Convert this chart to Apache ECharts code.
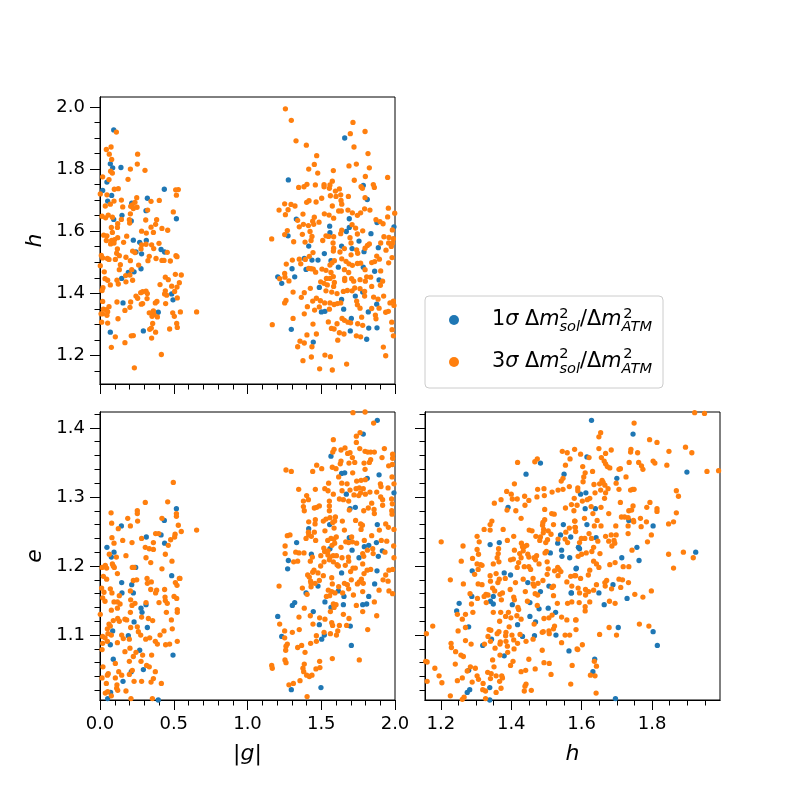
<!DOCTYPE html>
<html>
<head>
<meta charset="utf-8">
<style>html,body{margin:0;background:#fff}#main{width:800px;height:800px}</style>
<script src="https://cdn.jsdelivr.net/npm/echarts@6/dist/echarts.min.js"></script>
</head>
<body>
<div id="main"></div>
<script>
// |g| vs h
const blueGH = [[.093,1.926],[.070,1.817],[.086,1.804],[.142,1.805],[.047,1.758],[.018,1.731],[.079,1.715],[.052,1.697],[.436,1.735],[.321,1.706],[.215,1.690],[.312,1.666],[.149,1.651],[.518,1.640],[.093,1.638],[.212,1.633],[.226,1.571],[.269,1.564],[.314,1.570],[.414,1.541],[.438,1.533],[.282,1.527],[.244,1.533],[.278,1.479],[.192,1.467],[.231,1.469],[.147,1.448],[.486,1.398],[.495,1.379],[.156,1.369],[.395,1.339],[.070,1.275],[.294,1.279],
[1.659,1.900],[1.277,1.765],[1.785,1.747],[1.812,1.702],[1.331,1.639],[1.690,1.640],[1.878,1.628],[1.557,1.616],[1.690,1.612],[1.670,1.599],[1.993,1.614],[1.275,1.585],[1.559,1.595],[1.837,1.592],[1.756,1.568],[1.415,1.552],[1.638,1.552],[1.709,1.544],[1.790,1.534],[1.887,1.547],[1.521,1.528],[1.385,1.512],[1.437,1.507],[1.478,1.507],[1.566,1.505],[1.616,1.484],[1.785,1.484],[1.302,1.479],[1.397,1.477],[1.862,1.471],[1.205,1.453],[1.320,1.453],[1.232,1.432],[1.892,1.443],[1.487,1.419],[1.781,1.404],[1.731,1.391],[1.638,1.380],[1.876,1.365],[1.652,1.349],[1.819,1.340],[1.501,1.340],[1.525,1.342],[1.704,1.319],[1.297,1.284],[1.822,1.288],[1.878,1.289],[1.697,1.279],[1.446,1.243],[1.808,1.252]];
const orangeGH = [[.111,1.919],[.075,1.871],[.043,1.863],[.063,1.848],[.255,1.848],[.079,1.831],[.253,1.816],[.206,1.800],[.305,1.796],[.072,1.793],[.084,1.787],[.018,1.775],[.061,1.766],[.190,1.767],[.097,1.735],[.124,1.737],[.513,1.733],[.531,1.734],[.518,1.716],[.002,1.720],[.047,1.717],[.145,1.700],[.249,1.708],[.402,1.699],[.346,1.696],[.095,1.697],[.070,1.687],[.036,1.681],[.154,1.678],[.208,1.680],[.237,1.693],[.219,1.685],[.251,1.677],[.226,1.673],[.323,1.668],[.497,1.662],[.206,1.656],[.014,1.648],[.038,1.643],[.056,1.652],[.084,1.645],[.145,1.638],[.199,1.637],[.201,1.626],[.310,1.636],[.384,1.637],[.377,1.622],[.120,1.624],[.077,1.612],[.118,1.612],[.346,1.613],[.420,1.609],[.459,1.603],[.282,1.600],[.314,1.594],[.362,1.596],[.084,1.596],[.025,1.587],[.047,1.585],[.120,1.579],[.181,1.584],[.043,1.570],[.079,1.570],[.099,1.573],[.072,1.559],[.095,1.562],[.160,1.564],[.282,1.556],[.312,1.558],[.400,1.561],[.350,1.556],[.278,1.543],[.364,1.544],[.118,1.543],[.113,1.529],[.131,1.521],[.221,1.536],[.237,1.531],[.456,1.532],[.515,1.521],[.522,1.518],[.009,1.522],[.018,1.514],[.050,1.512],[.061,1.509],[.104,1.509],[.176,1.516],[.206,1.505],[.334,1.519],[.325,1.505],[.380,1.512],[.420,1.506],[.434,1.506],[.477,1.504],[.002,1.489],[.138,1.492],[.262,1.491],[.131,1.476],[.029,1.469],[.215,1.476],[.034,1.447],[.052,1.442],[.115,1.442],[.176,1.437],[.221,1.442],[.174,1.457],[.203,1.459],[.124,1.430],[.070,1.427],[.020,1.418],[.014,1.409],[.443,1.452],[.463,1.444],[.511,1.461],[.551,1.459],[.538,1.434],[.522,1.420],[.486,1.423],[.407,1.428],[.506,1.406],[.443,1.408],[.452,1.394],[.438,1.398],[.276,1.402],[.289,1.405],[.312,1.407],[.321,1.399],[.319,1.383],[.244,1.391],[.255,1.384],[.524,1.385],[.018,1.374],[.115,1.372],[.208,1.372],[.289,1.367],[.280,1.365],[.386,1.374],[.375,1.369],[.445,1.367],[.061,1.357],[.023,1.349],[.043,1.347],[.052,1.341],[.007,1.334],[.018,1.334],[.047,1.329],[.203,1.355],[.169,1.345],[.334,1.337],[.362,1.343],[.353,1.337],[.366,1.332],[.353,1.326],[.389,1.324],[.493,1.337],[.504,1.326],[.545,1.340],[.655,1.340],[.122,1.318],[.011,1.307],[.052,1.304],[.520,1.303],[.524,1.290],[.357,1.303],[.472,1.285],[.348,1.288],[.337,1.284],[.377,1.275],[.104,1.260],[.212,1.263],[.226,1.264],[.350,1.256],[.077,1.226],[.169,1.241],[.416,1.203],[.233,1.160],
[1.257,1.994],[1.297,1.957],[1.329,1.891],[1.399,1.877],[1.715,1.950],[1.697,1.914],[1.797,1.921],[1.722,1.871],[1.817,1.850],[1.469,1.843],[1.453,1.815],[1.415,1.800],[1.476,1.787],[1.582,1.795],[1.688,1.810],[1.738,1.816],[1.826,1.804],[1.799,1.776],[1.950,1.773],[1.724,1.764],[1.575,1.761],[1.559,1.749],[1.519,1.750],[1.460,1.749],[1.403,1.751],[1.383,1.743],[1.347,1.741],[1.519,1.743],[1.555,1.738],[1.623,1.736],[1.596,1.729],[1.770,1.743],[1.779,1.738],[1.853,1.750],[1.860,1.741],[1.562,1.714],[1.600,1.712],[1.632,1.717],[1.684,1.712],[1.503,1.706],[1.417,1.698],[1.401,1.693],[1.465,1.694],[1.634,1.699],[1.797,1.708],[1.639,1.687],[1.575,1.681],[1.252,1.688],[1.295,1.686],[1.322,1.681],[1.214,1.668],[1.275,1.669],[1.257,1.653],[1.376,1.655],[1.618,1.665],[1.636,1.665],[1.681,1.668],[1.711,1.659],[1.745,1.651],[1.767,1.659],[1.794,1.672],[1.830,1.668],[1.955,1.674],[1.998,1.658],[1.950,1.646],[1.521,1.656],[1.553,1.652],[1.584,1.642],[1.453,1.645],[1.442,1.632],[1.449,1.622],[1.485,1.629],[1.340,1.635],[1.379,1.622],[1.413,1.618],[1.351,1.614],[1.270,1.602],[1.252,1.589],[1.424,1.599],[1.372,1.590],[1.437,1.583],[1.431,1.570],[1.313,1.566],[1.390,1.565],[1.164,1.575],[1.510,1.570],[1.532,1.585],[1.550,1.583],[1.584,1.582],[1.632,1.592],[1.639,1.603],[1.709,1.621],[1.733,1.610],[1.745,1.591],[1.695,1.579],[1.781,1.601],[1.871,1.637],[1.898,1.631],[1.919,1.624],[1.982,1.604],[1.925,1.582],[1.959,1.580],[1.989,1.576],[1.903,1.562],[1.957,1.562],[1.984,1.562],[1.939,1.539],[1.975,1.551],[1.813,1.554],[1.826,1.559],[1.797,1.545],[1.580,1.562],[1.584,1.545],[1.582,1.536],[1.657,1.544],[1.702,1.562],[1.740,1.540],[1.747,1.529],[1.702,1.524],[1.627,1.533],[1.444,1.531],[1.419,1.519],[1.263,1.494],[1.304,1.507],[1.351,1.510],[1.361,1.495],[1.392,1.509],[1.415,1.480],[1.431,1.479],[1.446,1.478],[1.462,1.468],[1.505,1.478],[1.532,1.474],[1.559,1.491],[1.573,1.498],[1.589,1.505],[1.639,1.511],[1.668,1.503],[1.688,1.495],[1.711,1.490],[1.745,1.496],[1.767,1.497],[1.797,1.476],[1.842,1.499],[1.862,1.502],[1.876,1.520],[1.894,1.510],[1.957,1.498],[1.980,1.515],[1.903,1.472],[1.808,1.453],[1.835,1.452],[1.657,1.476],[1.686,1.467],[1.566,1.467],[1.582,1.454],[1.535,1.448],[1.559,1.448],[1.659,1.448],[1.659,1.441],[1.706,1.447],[1.720,1.439],[1.763,1.444],[1.799,1.439],[1.842,1.422],[1.901,1.426],[1.916,1.439],[1.252,1.464],[1.218,1.447],[1.254,1.452],[1.281,1.440],[1.496,1.437],[1.519,1.432],[1.541,1.427],[1.589,1.435],[1.584,1.422],[1.426,1.416],[1.532,1.408],[1.571,1.404],[1.607,1.399],[1.650,1.406],[1.677,1.409],[1.709,1.408],[1.727,1.417],[1.763,1.415],[1.794,1.406],[1.794,1.391],[1.855,1.388],[1.923,1.391],[1.309,1.404],[1.385,1.402],[1.365,1.387],[1.261,1.377],[1.252,1.369],[1.467,1.384],[1.442,1.375],[1.494,1.376],[1.406,1.357],[1.455,1.346],[1.487,1.356],[1.523,1.369],[1.559,1.369],[1.587,1.364],[1.609,1.367],[1.632,1.369],[1.740,1.375],[1.745,1.363],[1.763,1.352],[1.842,1.351],[1.885,1.381],[1.989,1.375],[1.966,1.369],[1.993,1.361],[1.892,1.352],[1.937,1.339],[1.955,1.342],[1.385,1.334],[1.555,1.349],[1.867,1.330],[1.871,1.318],[1.774,1.323],[1.309,1.319],[1.168,1.299],[1.444,1.301],[1.548,1.308],[1.607,1.302],[1.641,1.319],[1.657,1.313],[1.681,1.307],[1.699,1.305],[1.747,1.302],[1.781,1.297],[1.978,1.307],[1.980,1.283],[1.989,1.263],[1.569,1.287],[1.587,1.285],[1.623,1.273],[1.654,1.269],[1.738,1.263],[1.767,1.260],[1.612,1.249],[1.467,1.269],[1.403,1.266],[1.356,1.246],[1.385,1.240],[1.340,1.228],[1.437,1.228],[1.921,1.227],[1.937,1.199],[1.433,1.195],[1.525,1.201],[1.562,1.196],[1.376,1.183],[1.489,1.157],[1.575,1.153],[1.672,1.172]];
// |g| vs e
const blueGE = [[.518,1.283],[.436,1.266],[.145,1.258],[.414,1.245],[.314,1.242],[.438,1.233],[.047,1.227],[.095,1.220],[.077,1.213],[.242,1.198],[.486,1.186],[.147,1.176],[.215,1.173],[.149,1.161],[.226,1.161],[.312,1.144],[.278,1.139],[.285,1.133],[.231,1.119],[.321,1.111],[.086,1.106],[.192,1.099],[.070,1.086],[.269,1.078],[.495,1.071],[.090,1.065],[.212,1.047],[.294,1.050],[.156,1.033],[.072,1.017],[.052,1.008],[.395,1.006],
[1.880,1.411],[1.785,1.391],[1.566,1.359],[1.659,1.335],[1.638,1.334],[1.892,1.332],[1.812,1.327],[1.670,1.304],[1.993,1.306],[1.695,1.283],[1.731,1.285],[1.557,1.260],[1.415,1.254],[1.880,1.260],[1.333,1.234],[1.690,1.241],[1.874,1.234],[1.822,1.230],[1.792,1.228],[1.559,1.225],[1.433,1.217],[1.709,1.223],[1.914,1.222],[1.756,1.212],[1.887,1.214],[1.277,1.208],[1.272,1.196],[1.878,1.193],[1.638,1.190],[1.478,1.171],[1.862,1.174],[1.397,1.161],[1.616,1.164],[1.654,1.156],[1.822,1.156],[1.525,1.148],[1.781,1.144],[1.808,1.145],[1.650,1.144],[1.320,1.147],[1.304,1.143],[1.566,1.140],[1.446,1.134],[1.205,1.127],[1.487,1.115],[1.697,1.113],[1.232,1.098],[1.521,1.100],[1.503,1.094],[1.704,1.085],[1.297,1.021],[1.498,1.024]];
const orangeGE = [[.497,1.321],[.459,1.293],[.307,1.292],[.075,1.277],[.253,1.280],[.253,1.276],[.188,1.269],[.255,1.265],[.518,1.276],[.518,1.272],[.420,1.269],[.079,1.262],[.206,1.258],[.531,1.259],[.124,1.254],[.551,1.250],[.655,1.252],[.377,1.247],[.398,1.247],[.509,1.246],[.506,1.242],[.081,1.241],[.282,1.240],[.479,1.238],[.154,1.237],[.095,1.233],[.217,1.234],[.362,1.234],[.463,1.230],[.307,1.227],[.334,1.225],[.362,1.224],[.443,1.217],[.063,1.217],[.111,1.213],[.176,1.215],[.312,1.212],[.344,1.205],[.488,1.207],[.084,1.203],[.090,1.200],[.097,1.198],[.014,1.198],[.036,1.201],[.045,1.197],[.219,1.198],[.231,1.198],[.420,1.196],[.118,1.189],[.023,1.185],[.045,1.181],[.319,1.182],[.321,1.175],[.226,1.179],[.249,1.180],[.348,1.177],[.511,1.176],[.522,1.172],[.542,1.182],[.538,1.182],[.011,1.168],[.070,1.167],[.081,1.161],[.027,1.162],[.206,1.164],[.344,1.166],[.384,1.165],[.377,1.161],[.438,1.166],[.018,1.154],[.034,1.149],[.131,1.157],[.095,1.148],[.118,1.148],[.136,1.145],[.208,1.151],[.237,1.146],[.217,1.143],[.312,1.147],[.400,1.147],[.441,1.155],[.443,1.150],[.456,1.146],[.502,1.156],[.520,1.153],[.118,1.139],[.077,1.136],[.002,1.130],[.206,1.133],[.450,1.133],[.524,1.137],[.524,1.133],[.282,1.126],[.328,1.124],[.357,1.121],[.484,1.122],[.090,1.121],[.120,1.124],[.131,1.120],[.169,1.123],[.181,1.122],[.061,1.116],[.070,1.113],[.050,1.109],[.077,1.100],[.054,1.102],[.208,1.111],[.253,1.112],[.260,1.105],[.276,1.100],[.490,1.109],[.434,1.106],[.407,1.100],[.147,1.100],[.158,1.095],[.018,1.098],[.034,1.096],[.050,1.091],[.018,1.088],[.199,1.094],[.310,1.094],[.337,1.096],[.375,1.091],[.389,1.087],[.445,1.086],[.472,1.087],[.524,1.091],[.118,1.089],[.014,1.079],[.203,1.081],[.169,1.076],[.244,1.075],[.226,1.069],[.350,1.071],[.289,1.071],[.199,1.062],[.278,1.062],[.316,1.056],[.334,1.054],[.104,1.059],[.020,1.054],[.219,1.049],[.375,1.047],[.056,1.044],[.127,1.047],[.147,1.042],[.199,1.043],[.014,1.038],[.050,1.042],[.104,1.038],[.231,1.033],[.282,1.033],[.362,1.037],[.346,1.032],[.416,1.030],[.043,1.030],[.115,1.028],[.113,1.023],[.120,1.020],[.176,1.019],[.036,1.016],[.052,1.018],[.077,1.012],[.210,1.008],[.355,1.008],
[1.715,1.422],[1.797,1.423],[1.855,1.407],[1.763,1.393],[1.738,1.388],[1.582,1.383],[1.738,1.379],[1.761,1.370],[1.587,1.369],[1.578,1.365],[1.634,1.368],[1.661,1.371],[1.679,1.363],[1.695,1.364],[1.797,1.366],[1.815,1.365],[1.835,1.365],[1.860,1.365],[1.928,1.370],[1.984,1.362],[1.984,1.356],[1.912,1.357],[1.711,1.357],[1.634,1.352],[1.629,1.348],[1.727,1.350],[1.790,1.349],[1.835,1.354],[1.826,1.350],[1.688,1.349],[1.575,1.343],[1.600,1.341],[1.797,1.340],[1.982,1.347],[1.957,1.345],[1.261,1.339],[1.297,1.337],[1.442,1.337],[1.469,1.346],[1.503,1.341],[1.713,1.335],[1.618,1.329],[1.980,1.329],[1.550,1.320],[1.639,1.320],[1.675,1.319],[1.740,1.323],[1.770,1.324],[1.799,1.325],[1.901,1.319],[1.905,1.315],[1.993,1.319],[1.524,1.312],[1.546,1.309],[1.460,1.311],[1.347,1.311],[1.641,1.309],[1.695,1.310],[1.736,1.312],[1.758,1.313],[1.785,1.312],[1.799,1.304],[1.830,1.307],[1.876,1.307],[1.953,1.313],[1.582,1.304],[1.401,1.302],[1.413,1.296],[1.379,1.294],[1.623,1.297],[1.650,1.296],[1.686,1.294],[1.722,1.303],[1.754,1.302],[1.767,1.306],[1.903,1.300],[1.916,1.296],[1.977,1.297],[1.982,1.290],[1.555,1.294],[1.555,1.287],[1.842,1.291],[1.916,1.288],[1.379,1.286],[1.385,1.280],[1.453,1.284],[1.469,1.285],[1.487,1.287],[1.555,1.280],[1.819,1.284],[1.788,1.280],[1.690,1.281],[1.858,1.282],[1.860,1.276],[1.978,1.280],[1.980,1.275],[1.559,1.270],[1.532,1.268],[1.596,1.271],[1.591,1.265],[1.460,1.267],[1.415,1.264],[1.458,1.261],[1.514,1.265],[1.578,1.263],[1.643,1.265],[1.733,1.266],[1.767,1.261],[1.779,1.259],[1.937,1.261],[1.955,1.256],[1.894,1.252],[1.993,1.253],[1.413,1.249],[1.415,1.245],[1.453,1.249],[1.525,1.251],[1.587,1.255],[1.657,1.252],[1.770,1.253],[1.270,1.244],[1.288,1.245],[1.433,1.243],[1.397,1.240],[1.462,1.237],[1.566,1.240],[1.544,1.237],[1.586,1.239],[1.602,1.242],[1.706,1.242],[1.666,1.235],[1.686,1.234],[1.711,1.235],[1.740,1.233],[1.634,1.227],[1.591,1.233],[1.255,1.229],[1.842,1.244],[1.907,1.237],[1.944,1.236],[1.792,1.237],[1.991,1.229],[1.255,1.218],[1.327,1.220],[1.349,1.219],[1.440,1.213],[1.383,1.219],[1.517,1.226],[1.523,1.221],[1.546,1.222],[1.573,1.230],[1.497,1.215],[1.545,1.216],[1.559,1.213],[1.581,1.215],[1.603,1.215],[1.641,1.212],[1.684,1.213],[1.849,1.225],[1.852,1.218],[1.932,1.220],[1.781,1.218],[1.788,1.214],[1.813,1.223],[1.313,1.206],[1.340,1.207],[1.426,1.207],[1.519,1.206],[1.555,1.209],[1.582,1.206],[1.607,1.202],[1.616,1.200],[1.686,1.207],[1.663,1.201],[1.993,1.212],[1.781,1.203],[1.496,1.200],[1.451,1.194],[1.442,1.191],[1.514,1.186],[1.478,1.190],[1.715,1.197],[1.699,1.192],[1.731,1.197],[1.811,1.194],[1.835,1.195],[1.959,1.194],[1.984,1.195],[1.937,1.187],[1.790,1.189],[1.408,1.187],[1.419,1.184],[1.571,1.183],[1.704,1.180],[1.772,1.181],[1.758,1.177],[1.745,1.174],[1.785,1.175],[1.919,1.180],[1.953,1.178],[1.428,1.178],[1.487,1.179],[1.431,1.175],[1.458,1.175],[1.431,1.170],[1.214,1.171],[1.372,1.168],[1.575,1.174],[1.618,1.170],[1.657,1.175],[1.677,1.173],[1.686,1.167],[1.404,1.159],[1.548,1.165],[1.571,1.163],[1.593,1.161],[1.645,1.161],[1.781,1.163],[1.718,1.158],[1.892,1.165],[1.959,1.164],[1.984,1.160],[1.535,1.156],[1.557,1.157],[1.860,1.148],[1.738,1.143],[1.385,1.139],[1.582,1.145],[1.600,1.144],[1.587,1.140],[1.781,1.134],[1.876,1.128],[1.349,1.126],[1.426,1.128],[1.489,1.125],[1.525,1.123],[1.562,1.134],[1.650,1.130],[1.688,1.124],[1.444,1.116],[1.571,1.118],[1.577,1.114],[1.623,1.114],[1.672,1.114],[1.351,1.108],[1.252,1.106],[1.218,1.116],[1.304,1.104],[1.519,1.104],[1.562,1.102],[1.603,1.100],[1.612,1.106],[1.815,1.108],[1.467,1.099],[1.252,1.096],[1.428,1.088],[1.467,1.091],[1.270,1.087],[1.261,1.084],[1.259,1.078],[1.367,1.085],[1.340,1.082],[1.390,1.075],[1.575,1.066],[1.758,1.064],[1.254,1.064],[1.261,1.060],[1.164,1.056],[1.168,1.052],[1.489,1.062],[1.385,1.058],[1.376,1.052],[1.464,1.051],[1.491,1.053],[1.381,1.047],[1.401,1.042],[1.419,1.040],[1.437,1.042],[1.356,1.034],[1.311,1.030],[1.281,1.028],[1.404,1.011]];
// h vs e
const blueHE = [[1.483,1.349],[1.442,1.333],[1.550,1.333],[1.391,1.285],[1.340,1.231],[1.366,1.234],[1.548,1.260],[1.540,1.245],[1.532,1.233],[1.569,1.242],[1.591,1.227],[1.543,1.223],[1.511,1.219],[1.544,1.214],[1.566,1.212],[1.289,1.193],[1.380,1.190],[1.398,1.187],[1.585,1.197],[1.447,1.176],[1.507,1.171],[1.483,1.163],[1.288,1.156],[1.349,1.156],[1.341,1.149],[1.349,1.145],[1.252,1.146],[1.245,1.135],[1.403,1.144],[1.453,1.147],[1.479,1.138],[1.505,1.139],[1.526,1.133],[1.453,1.127],[1.469,1.119],[1.418,1.115],[1.279,1.112],[1.570,1.161],[1.432,1.098],[1.466,1.099],[1.527,1.100],[1.319,1.085],[1.344,1.094],[1.380,1.070],[1.564,1.077],[1.279,1.049],[1.282,1.021],[1.275,1.017],[1.339,1.024],[1.339,1.006],
[1.628,1.411],[1.746,1.391],[1.899,1.336],[1.700,1.327],[1.597,1.304],[1.612,1.306],[1.610,1.283],[1.639,1.283],[1.615,1.260],[1.734,1.266],[1.803,1.258],[1.641,1.241],[1.591,1.227],[1.594,1.225],[1.757,1.227],[1.714,1.212],[1.763,1.208],[1.924,1.220],[1.584,1.196],[1.689,1.173],[1.649,1.161],[1.571,1.161],[1.729,1.153],[1.664,1.144],[1.704,1.111],[1.803,1.105],[1.815,1.085],[1.637,1.065],[1.632,1.047],[1.696,1.008],[1.615,1.358]];
const orangeHE = [[1.545,1.366],[1.559,1.364],[1.580,1.369],[1.567,1.355],[1.554,1.346],[1.474,1.355],[1.467,1.351],[1.418,1.350],[1.547,1.327],[1.542,1.323],[1.409,1.319],[1.565,1.315],[1.475,1.311],[1.493,1.312],[1.387,1.308],[1.533,1.310],[1.547,1.311],[1.516,1.307],[1.400,1.304],[1.438,1.301],[1.494,1.302],[1.473,1.300],[1.403,1.297],[1.417,1.297],[1.371,1.296],[1.450,1.295],[1.579,1.298],[1.352,1.291],[1.439,1.288],[1.571,1.289],[1.413,1.280],[1.388,1.281],[1.495,1.282],[1.554,1.284],[1.578,1.280],[1.515,1.276],[1.522,1.275],[1.428,1.269],[1.345,1.265],[1.340,1.260],[1.495,1.267],[1.490,1.263],[1.580,1.265],[1.520,1.260],[1.582,1.256],[1.323,1.253],[1.340,1.252],[1.377,1.253],[1.451,1.252],[1.459,1.251],[1.489,1.259],[1.492,1.253],[1.505,1.251],[1.491,1.248],[1.513,1.246],[1.565,1.255],[1.555,1.249],[1.303,1.243],[1.407,1.243],[1.470,1.243],[1.483,1.242],[1.503,1.238],[1.309,1.235],[1.201,1.235],[1.389,1.237],[1.263,1.229],[1.429,1.233],[1.444,1.230],[1.437,1.228],[1.481,1.237],[1.498,1.234],[1.533,1.239],[1.553,1.239],[1.560,1.234],[1.303,1.224],[1.364,1.225],[1.409,1.223],[1.432,1.228],[1.434,1.222],[1.500,1.221],[1.307,1.217],[1.363,1.218],[1.360,1.212],[1.365,1.206],[1.290,1.211],[1.258,1.207],[1.424,1.218],[1.406,1.210],[1.398,1.209],[1.428,1.212],[1.447,1.217],[1.450,1.213],[1.465,1.212],[1.472,1.215],[1.496,1.219],[1.502,1.206],[1.469,1.209],[1.303,1.203],[1.313,1.202],[1.317,1.201],[1.306,1.195],[1.349,1.203],[1.421,1.205],[1.417,1.198],[1.437,1.199],[1.450,1.199],[1.455,1.195],[1.479,1.203],[1.505,1.196],[1.532,1.198],[1.536,1.195],[1.523,1.193],[1.541,1.192],[1.357,1.189],[1.296,1.188],[1.340,1.186],[1.227,1.180],[1.264,1.174],[1.341,1.178],[1.366,1.181],[1.383,1.182],[1.362,1.176],[1.412,1.176],[1.434,1.181],[1.462,1.182],[1.490,1.179],[1.502,1.188],[1.533,1.186],[1.558,1.177],[1.569,1.185],[1.580,1.186],[1.306,1.174],[1.317,1.173],[1.347,1.168],[1.353,1.164],[1.368,1.159],[1.375,1.161],[1.397,1.166],[1.440,1.163],[1.462,1.174],[1.476,1.175],[1.465,1.171],[1.516,1.169],[1.520,1.171],[1.572,1.171],[1.283,1.160],[1.328,1.159],[1.334,1.158],[1.323,1.156],[1.304,1.153],[1.372,1.151],[1.407,1.155],[1.409,1.151],[1.468,1.160],[1.475,1.158],[1.520,1.157],[1.287,1.145],[1.329,1.147],[1.474,1.143],[1.531,1.146],[1.560,1.146],[1.572,1.148],[1.270,1.130],[1.291,1.133],[1.349,1.133],[1.370,1.133],[1.392,1.133],[1.419,1.140],[1.421,1.137],[1.446,1.149],[1.399,1.125],[1.416,1.128],[1.428,1.123],[1.493,1.124],[1.507,1.125],[1.516,1.129],[1.543,1.126],[1.558,1.122],[1.583,1.122],[1.261,1.123],[1.367,1.120],[1.384,1.127],[1.247,1.130],[1.270,1.111],[1.177,1.113],[1.394,1.112],[1.465,1.116],[1.523,1.113],[1.520,1.109],[1.159,1.102],[1.249,1.106],[1.337,1.108],[1.342,1.107],[1.365,1.105],[1.360,1.102],[1.385,1.104],[1.491,1.105],[1.507,1.106],[1.488,1.104],[1.334,1.098],[1.384,1.099],[1.402,1.100],[1.425,1.101],[1.462,1.094],[1.508,1.102],[1.553,1.100],[1.566,1.100],[1.270,1.092],[1.286,1.087],[1.324,1.087],[1.341,1.091],[1.369,1.090],[1.385,1.091],[1.407,1.093],[1.442,1.091],[1.543,1.089],[1.587,1.080],[1.229,1.088],[1.230,1.082],[1.242,1.076],[1.257,1.071],[1.264,1.069],[1.354,1.081],[1.368,1.087],[1.389,1.084],[1.418,1.088],[1.408,1.080],[1.390,1.075],[1.368,1.071],[1.488,1.078],[1.347,1.064],[1.450,1.065],[1.405,1.062],[1.398,1.056],[1.493,1.060],[1.508,1.059],[1.573,1.056],[1.157,1.062],[1.161,1.061],[1.241,1.058],[1.183,1.052],[1.351,1.054],[1.298,1.052],[1.284,1.054],[1.275,1.048],[1.428,1.047],[1.441,1.049],[1.468,1.051],[1.513,1.043],[1.195,1.041],[1.261,1.038],[1.303,1.041],[1.247,1.034],[1.307,1.036],[1.333,1.046],[1.343,1.044],[1.357,1.041],[1.373,1.041],[1.375,1.038],[1.341,1.037],[1.320,1.030],[1.367,1.033],[1.289,1.032],[1.203,1.031],[1.161,1.033],[1.371,1.023],[1.442,1.029],[1.569,1.029],[1.439,1.026],[1.319,1.021],[1.327,1.019],[1.357,1.017],[1.437,1.019],[1.457,1.020],[1.227,1.012],[1.266,1.010],[1.261,1.007],[1.327,1.008],
[1.921,1.422],[1.949,1.421],[1.749,1.407],[1.654,1.393],[1.649,1.387],[1.793,1.383],[1.814,1.379],[1.649,1.370],[1.684,1.368],[1.668,1.363],[1.597,1.362],[1.621,1.357],[1.740,1.369],[1.739,1.365],[1.759,1.364],[1.848,1.366],[1.895,1.372],[1.913,1.364],[1.656,1.357],[1.664,1.352],[1.668,1.348],[1.673,1.344],[1.680,1.342],[1.735,1.350],[1.762,1.350],[1.770,1.345],[1.774,1.340],[1.803,1.352],[1.808,1.349],[1.842,1.346],[1.706,1.340],[1.710,1.341],[1.603,1.344],[1.610,1.335],[1.606,1.329],[1.604,1.322],[1.631,1.337],[1.956,1.337],[1.989,1.338],[1.726,1.329],[1.698,1.320],[1.658,1.324],[1.651,1.319],[1.661,1.321],[1.666,1.317],[1.675,1.312],[1.635,1.318],[1.589,1.313],[1.589,1.309],[1.654,1.310],[1.706,1.311],[1.739,1.310],[1.745,1.311],[1.749,1.311],[1.638,1.306],[1.668,1.306],[1.869,1.309],[1.875,1.301],[1.665,1.298],[1.623,1.298],[1.616,1.296],[1.602,1.294],[1.710,1.292],[1.794,1.292],[1.587,1.288],[1.627,1.286],[1.655,1.285],[1.746,1.287],[1.785,1.285],[1.814,1.283],[1.814,1.279],[1.734,1.280],[1.742,1.281],[1.632,1.276],[1.677,1.276],[1.869,1.277],[1.608,1.269],[1.713,1.271],[1.722,1.271],[1.732,1.270],[1.767,1.269],[1.748,1.264],[1.747,1.266],[1.861,1.264],[1.784,1.264],[1.847,1.261],[1.581,1.265],[1.644,1.266],[1.697,1.258],[1.732,1.258],[1.769,1.257],[1.636,1.258],[1.655,1.258],[1.798,1.245],[1.787,1.235],[1.581,1.256],[1.583,1.250],[1.621,1.247],[1.668,1.243],[1.684,1.245],[1.698,1.245],[1.732,1.247],[1.599,1.240],[1.609,1.240],[1.628,1.240],[1.646,1.236],[1.594,1.234],[1.677,1.236],[1.692,1.237],[1.694,1.233],[1.686,1.229],[1.634,1.227],[1.743,1.223],[1.629,1.221],[1.652,1.218],[1.613,1.219],[1.600,1.217],[1.590,1.214],[1.847,1.217],[1.889,1.220],[1.917,1.212],[1.634,1.207],[1.642,1.203],[1.649,1.198],[1.680,1.202],[1.695,1.205],[1.718,1.199],[1.734,1.199],[1.861,1.197],[1.623,1.194],[1.619,1.187],[1.583,1.186],[1.597,1.182],[1.706,1.181],[1.716,1.180],[1.733,1.176],[1.671,1.179],[1.666,1.176],[1.667,1.171],[1.642,1.173],[1.711,1.169],[1.685,1.167],[1.590,1.168],[1.611,1.166],[1.634,1.165],[1.620,1.163],[1.611,1.158],[1.594,1.161],[1.751,1.159],[1.798,1.164],[1.774,1.155],[1.679,1.149],[1.695,1.146],[1.623,1.148],[1.593,1.147],[1.610,1.141],[1.610,1.135],[1.584,1.122],[1.584,1.108],[1.678,1.111],[1.651,1.101],[1.764,1.116],[1.791,1.113],[1.699,1.100],[1.602,1.086],[1.589,1.079],[1.636,1.062],[1.642,1.055],[1.625,1.042],[1.638,1.041],[1.641,1.016]];

const gRange = [0, 2];
const hYRange = [1.108, 2.032];
const hXRange = [1.155, 1.993];
const eRange = [1.006, 1.423];

const gTicks = [0, 0.5, 1, 1.5, 2];
const gMinor = [0.1, 0.2, 0.3, 0.4, 0.6, 0.7, 0.8, 0.9, 1.1, 1.2, 1.3, 1.4, 1.6, 1.7, 1.8, 1.9];
const hTicks = [1.2, 1.4, 1.6, 1.8, 2.0];
const hMinor = [1.15, 1.25, 1.3, 1.35, 1.45, 1.5, 1.55, 1.65, 1.7, 1.75, 1.85, 1.9, 1.95];
const hBottomTicks = [1.2, 1.4, 1.6, 1.8];
const eTicks = [1.1, 1.2, 1.3, 1.4];
const eMinor = [1.02, 1.04, 1.06, 1.08, 1.12, 1.14, 1.16, 1.18, 1.22, 1.24, 1.26, 1.28, 1.32, 1.34, 1.36, 1.38, 1.42];

const legendNames = ['1σ', '3σ'];
const blue = '#1f77b4';
const orange = '#ff7f0e';
const FONT = '"DejaVu Sans"';

var chartDom = document.getElementById('main');
var myChart = echarts.init(chartDom);

const grids = [
    { left: 100, top: 97, width: 295, height: 287, show: true, borderColor: '#000', borderWidth: 1 },
    { left: 100, top: 412, width: 295, height: 288, show: true, borderColor: '#000', borderWidth: 1 },
    { left: 425, top: 412, width: 295, height: 288, show: true, borderColor: '#000', borderWidth: 1 }
];

// one axis carries the labelled ticks, a second one only the short ticks
function axisPair(gridIndex, position, range, ticks, minor, showLabels, name, nameGap) {
    const base = {
        type: 'value', gridIndex, position, min: range[0], max: range[1], scale: true,
        splitLine: { show: false },
        axisLine: { onZero: false, lineStyle: { color: '#000', width: 1 } }
    };
    return [
        Object.assign({}, base, {
            name: name || '',
            nameLocation: 'middle',
            nameGap: nameGap || 0,
            nameTextStyle: {
                fontFamily: FONT, fontSize: 22, fontStyle: 'italic', color: '#000',
                rich: { t: { fontFamily: FONT, fontSize: 22, fontStyle: 'normal', color: '#000' } }
            },
            axisTick: { length: 10, customValues: ticks, lineStyle: { color: '#000', width: 1 } },
            axisLabel: {
                show: showLabels, customValues: ticks, margin: 15,
                fontFamily: FONT, fontSize: 18, color: '#000',
                padding: position === 'left' ? [6, 0, 0, 0] : 0,
                formatter: v => v.toFixed(1)
            }
        }),
        Object.assign({}, base, {
            axisTick: { length: 5.5, customValues: minor, lineStyle: { color: '#000', width: 1 } },
            axisLabel: { show: false }
        })
    ];
}

const xAxes = [].concat(
    axisPair(0, 'bottom', gRange, gTicks, gMinor, false),
    axisPair(1, 'bottom', gRange, gTicks, gMinor, true, '{t||}g{t||}', 43),
    axisPair(2, 'bottom', hXRange, hBottomTicks, hMinor, true, 'h', 43)
);
const yAxes = [].concat(
    axisPair(0, 'left', hYRange, hTicks, hMinor, true, 'h', 54),
    axisPair(1, 'left', eRange, eTicks, eMinor, true, 'e', 54),
    axisPair(2, 'left', eRange, eTicks, eMinor, false)
);

function scatter(name, color, data, panel) {
    return {
        name, type: 'scatter', data, symbolSize: 5.3,
        xAxisIndex: panel * 2, yAxisIndex: panel * 2,
        itemStyle: { color, opacity: 1 },
        emphasis: { disabled: true },
        clip: true
    };
}

const subStyle = { fontFamily: FONT, fontSize: 14.6, fontStyle: 'italic', color: '#000', padding: [15, 0, 0, 0] };

const option = {
    animation: false,
    backgroundColor: '#fff',
    grid: grids,
    xAxis: xAxes,
    yAxis: yAxes,
    legend: {
        orient: 'vertical', left: 425, top: 296,
        padding: [11, 11, 11, 24], itemGap: 14,
        itemWidth: 10, itemHeight: 10, icon: 'circle',
        borderColor: '#ccc', borderWidth: 1, borderRadius: 4, backgroundColor: '#fff',
        data: legendNames,
        selectedMode: false,
        formatter: function (n) {
            return '{lead|' + n.charAt(0) + '}{i|σ} Δ{i|m}{sub|sol}/Δ{i|m}{sub|ATM}';
        },
        textStyle: {
            fontFamily: FONT, fontSize: 20.8, color: '#000', lineHeight: 26,
            rich: {
                lead: { fontFamily: FONT, fontSize: 20.8, color: '#000', padding: [0, 0, 0, 28] },
                i: { fontFamily: FONT, fontSize: 20.8, fontStyle: 'italic', color: '#000' },
                sub: subStyle
            }
        }
    },
    graphic: [
        [564, 314], [628, 314], [564, 354], [628, 354]
    ].map(p => ({
        type: 'text', x: p[0], y: p[1], z: 50,
        style: { text: '2', fontFamily: FONT, fontSize: 14.6, fill: '#000', align: 'center', verticalAlign: 'middle' }
    })),
    series: [
        scatter(legendNames[0], blue, blueGH, 0),
        scatter(legendNames[1], orange, orangeGH, 0),
        scatter(legendNames[0], blue, blueGE, 1),
        scatter(legendNames[1], orange, orangeGE, 1),
        scatter(legendNames[0], blue, blueHE, 2),
        scatter(legendNames[1], orange, orangeHE, 2)
    ]
};

myChart.setOption(option);
</script>
</body>
</html>
